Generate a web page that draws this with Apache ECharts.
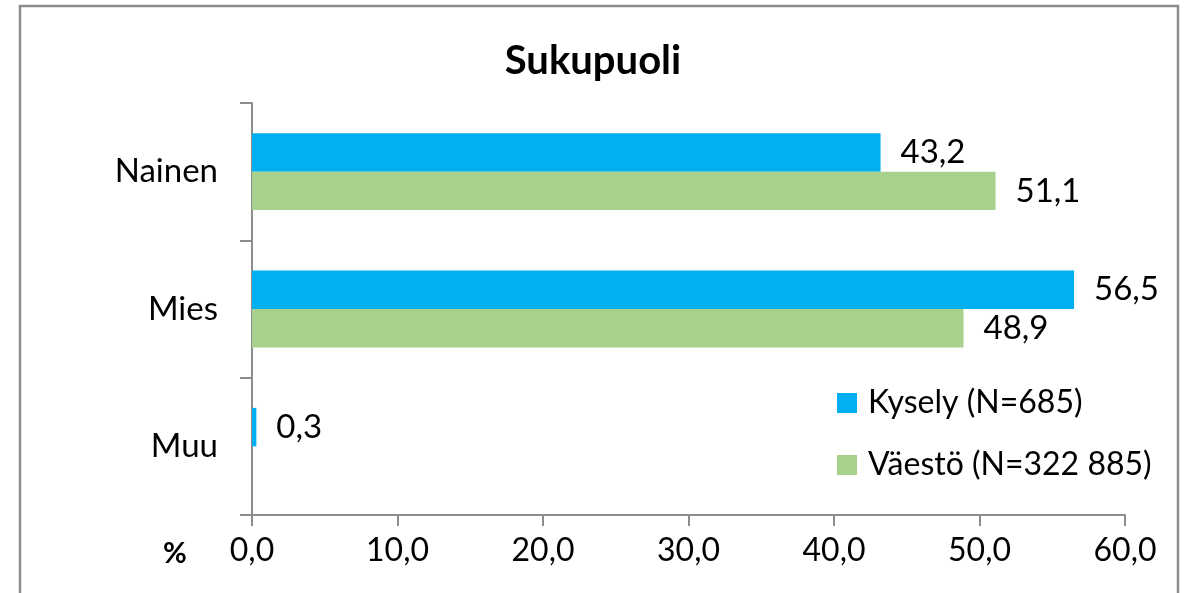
<!DOCTYPE html>
<html>
<head>
<meta charset="utf-8">
<script src="https://cdn.jsdelivr.net/npm/echarts@6/dist/echarts.min.js"></script>
<style>
  html, body { margin: 0; padding: 0; background: #fff; }
  #chart { width: 1186px; height: 593px; }
</style>
</head>
<body>
<div id="chart"></div>
<script>
const categories = ['Nainen', 'Mies', 'Muu'];
const kysely = [43.2, 56.5, 0.3];
const vaesto = [51.1, 48.9, null];
const seriesNames = ['Kysely (N=685)', 'Väestö (N=322 885)'];
const xTicks = [0, 10, 20, 30, 40, 50, 60];

const font = 'Lato, "Noto Sans", sans-serif';
const fmt = v => v.toFixed(1).replace('.', ',');

const chart = echarts.init(document.getElementById('chart'));
chart.setOption({
  animation: false,
  title: {
    text: 'Sukupuoli',
    left: 'center',
    top: 36,
    textStyle: { fontFamily: font, fontSize: 40, fontWeight: 'bold', color: '#000' }
  },
  legend: {
    orient: 'vertical',
    left: 832,
    top: 382,
    itemWidth: 20,
    itemHeight: 20,
    itemGap: 30,
    icon: 'rect',
    textStyle: { fontFamily: font, fontSize: 32, color: '#000', padding: [0, 0, 0, 6] },
    data: seriesNames
  },
  grid: { left: 252, right: 61, top: 103, bottom: 78 },
  xAxis: {
    type: 'value',
    min: xTicks[0],
    max: xTicks[xTicks.length - 1],
    interval: 10,
    splitLine: { show: false },
    axisLine: { show: true, lineStyle: { color: '#8c8c8c', width: 2 } },
    axisTick: { show: true, length: 11, lineStyle: { color: '#8c8c8c', width: 2 } },
    axisLabel: {
      margin: 20,
      fontFamily: font, fontSize: 32, color: '#000',
      formatter: v => fmt(v)
    }
  },
  yAxis: {
    type: 'category',
    data: categories,
    inverse: true,
    axisLine: { show: true, lineStyle: { color: '#8c8c8c', width: 2 } },
    axisTick: { show: true, alignWithLabel: false, length: 12, lineStyle: { color: '#8c8c8c', width: 2 } },
    axisLabel: { margin: 34, fontFamily: font, fontSize: 33, color: '#000' }
  },
  graphic: [
    {
      type: 'rect',
      shape: { x: 20, y: 6, width: 1158, height: 620 },
      style: { fill: 'none', stroke: '#8c8c8c', lineWidth: 2.5 },
      silent: true
    },
    {
      type: 'text',
      left: 163,
      top: 539,
      style: { text: '%', fontFamily: font, fontSize: 29, fontWeight: 'bold', fill: '#000' }
    }
  ],
  series: [
    {
      name: seriesNames[0],
      type: 'bar',
      data: kysely,
      barGap: '0%',
      barCategoryGap: '44%',
      itemStyle: { color: '#00B0F0' },
      label: {
        show: true, position: 'right', distance: 20,
        fontFamily: font, fontSize: 33, color: '#000',
        formatter: p => fmt(p.value)
      }
    },
    {
      name: seriesNames[1],
      type: 'bar',
      data: vaesto,
      itemStyle: { color: '#A9D18E' },
      label: {
        show: true, position: 'right', distance: 20,
        fontFamily: font, fontSize: 33, color: '#000',
        formatter: p => fmt(p.value)
      }
    }
  ]
});
</script>
</body>
</html>
